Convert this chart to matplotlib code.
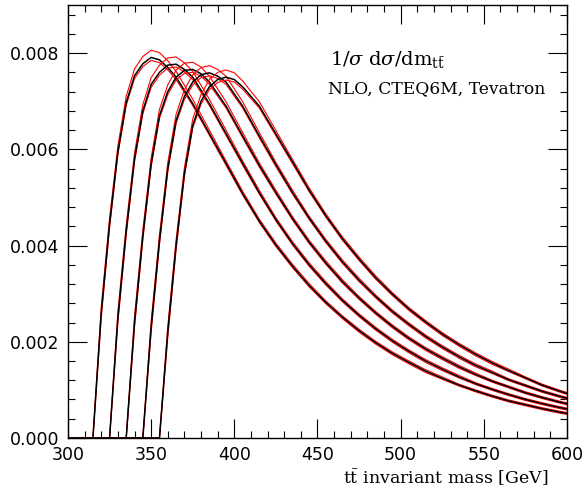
import numpy as np
import matplotlib
matplotlib.use("Agg")
import matplotlib.pyplot as plt
from matplotlib.ticker import MultipleLocator, FormatStrFormatter

# thresholds of the five curves (GeV)
thresholds = [315, 325, 335, 345, 355]

# offsets above threshold where values were read
d_grid = [0, 5, 10, 15, 20, 25, 30, 35, 40, 45, 50,
          60, 70, 80, 90, 100, 110, 120, 130, 140, 150, 160, 170, 180,
          190, 200, 210, 220, 230, 240, 250, 260, 270, 280, 290, 300]

# central (black) curves, 1/sigma dsigma/dm
black_1 = [0, 0.0026, 0.00445, 0.00595, 0.00697, 0.00753, 0.00778, 0.00791,
           0.00786, 0.0077, 0.0075,
           0.00695, 0.00633, 0.00571, 0.00508, 0.00451, 0.00401, 0.00357,
           0.00317, 0.00282, 0.00251, 0.00223, 0.00198, 0.00176, 0.00157,
           0.00139, 0.00124, 0.0011, 0.00098, 0.00087, 0.00077, 0.00069,
           0.00061, 0.00054, 0.00048, 0.00043]
black_2 = [0, 0.0025, 0.0043, 0.0058, 0.0068, 0.00735, 0.0076, 0.00775,
           0.00777, 0.00766, 0.0075,
           0.00695, 0.00633, 0.00571, 0.0051, 0.00454, 0.00404, 0.0036,
           0.00321, 0.00286, 0.00255, 0.00227, 0.00202, 0.0018, 0.0016,
           0.00143, 0.00127, 0.00113, 0.00101, 0.0009, 0.0008, 0.000714,
           0.000636, 0.000567, 0.000505, 0.00045]
black_3 = [0, 0.0024, 0.0042, 0.0057, 0.0067, 0.0072, 0.0075, 0.00764,
           0.00766, 0.00757, 0.0074,
           0.0069, 0.00628, 0.00567, 0.0051, 0.00456, 0.00407, 0.00364,
           0.00325, 0.00291, 0.0026, 0.00232, 0.00207, 0.00185, 0.00166,
           0.00148, 0.00132, 0.00118, 0.00106, 0.00094, 0.00084, 0.00075,
           0.00067, 0.0006, 0.00054, 0.00048]
black_4 = [0, 0.0023, 0.0041, 0.0056, 0.0066, 0.0071, 0.0074, 0.00755,
           0.00759, 0.00752, 0.0074,
           0.0069, 0.00628, 0.00568, 0.0051, 0.00457, 0.00409, 0.00366,
           0.00328, 0.00294, 0.00263, 0.00236, 0.00211, 0.00189, 0.00169,
           0.00151, 0.00136, 0.00121, 0.00109, 0.00097, 0.00087, 0.00078,
           0.0007, 0.00063, 0.00056, 0.0005]
black_5 = [0, 0.0022, 0.0040, 0.0055, 0.0065, 0.0070, 0.0073, 0.00745,
           0.0075, 0.00745, 0.0073,
           0.0069, 0.00632, 0.00574, 0.00515, 0.00462, 0.00414, 0.00372,
           0.00333, 0.00299, 0.00268, 0.00241, 0.00216, 0.00194, 0.00174,
           0.00156, 0.0014, 0.00125, 0.0011, 0.00098, 0.00087, 0.00078,
           0.0007, 0.00062, 0.00056, 0.0005]
black_curves = [black_1, black_2, black_3, black_4, black_5]

# red band: distance of upper / lower red curve from the black one
red_hi_dev = [0, 1.2e-4, 1.2e-4, 1.2e-4, 1.3e-4, 1.4e-4, 1.5e-4, 1.5e-4,
              1.5e-4, 1.4e-4, 1.2e-4,
              9e-5, 7e-5, 5e-5, 5e-5, 4e-5, 4e-5, 4e-5, 4e-5,
              3e-5, 3e-5, 3e-5, 3e-5, 3e-5, 3e-5, 3e-5, 3e-5,
              2e-5, 2e-5, 2e-5, 2e-5, 2e-5, 2e-5, 2e-5, 2e-5, 2e-5]
red_lo_dev = [0, 1e-4, 8e-5, 6e-5, 6e-5, 6e-5, 6e-5, 6e-5, 6e-5, 5e-5, 5e-5,
              4e-5, 4e-5, 4e-5,
              3e-5, 3e-5, 3e-5, 3e-5, 3e-5, 3e-5, 3e-5, 3e-5, 3e-5, 3e-5,
              3e-5, 3e-5,
              2e-5, 2e-5, 2e-5, 2e-5, 2e-5, 2e-5, 2e-5, 2e-5, 2e-5, 2e-5]

plt.rcParams["mathtext.fontset"] = "dejavuserif"

fig = plt.figure(figsize=(5.84, 4.95), dpi=100)
ax = fig.add_axes([0.1164, 0.1152, 0.8545, 0.8747])

for thr, blk in zip(thresholds, black_curves):
    m = np.concatenate([[300], thr + np.array(d_grid)])
    b = np.concatenate([[0], blk])
    hi = b + np.concatenate([[0], red_hi_dev])
    lo = b - np.concatenate([[0], red_lo_dev])
    lo[lo < 0] = 0
    ax.plot(m, hi, color="red", lw=0.8)
    ax.plot(m, lo, color="red", lw=0.8)
    ax.plot(m, b, color="black", lw=1.1)

ax.set_xlim(300, 600)
ax.set_ylim(0, 0.009)
ax.xaxis.set_major_locator(MultipleLocator(50))
ax.xaxis.set_minor_locator(MultipleLocator(10))
ax.yaxis.set_major_locator(MultipleLocator(0.002))
ax.yaxis.set_minor_locator(MultipleLocator(0.0004))
ax.yaxis.set_major_formatter(FormatStrFormatter("%.3f"))
ax.tick_params(which="both", direction="in", top=True, right=True, width=0.8)
ax.tick_params(which="major", length=14, labelsize=12.5, pad=6)
ax.tick_params(which="minor", length=5)
for s in ax.spines.values():
    s.set_linewidth(1.0)

ax.text(0.525, 0.861, r"1/$\sigma$ d$\sigma$/dm$_{\mathrm{t\bar{t}}}$",
        transform=ax.transAxes, family="DejaVu Serif", fontsize=14)
ax.text(0.521, 0.797, "NLO, CTEQ6M, Tevatron",
        transform=ax.transAxes, family="DejaVu Serif", fontsize=12.3)
ax.text(0.962, -0.092, r"$\mathrm{t\bar{t}}$ invariant mass [GeV]",
        transform=ax.transAxes, family="DejaVu Serif", fontsize=12.5,
        ha="right", va="center")

fig.savefig("out.png", dpi=100)
